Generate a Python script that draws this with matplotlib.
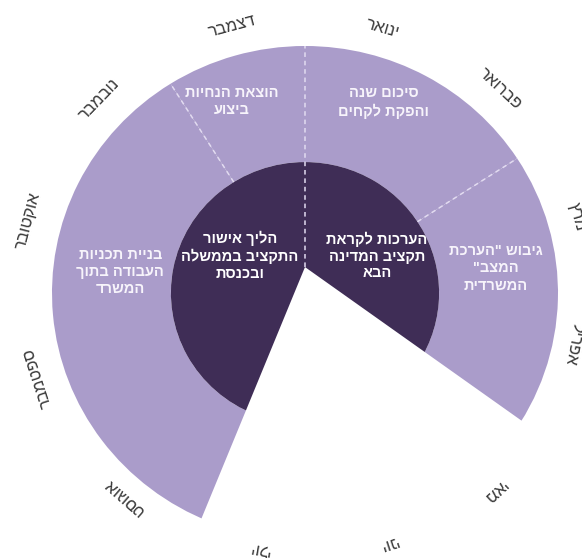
import numpy as np
import matplotlib
matplotlib.use('Agg')
import matplotlib.pyplot as plt
from matplotlib.patches import Wedge

plt.rcParams['font.family'] = ['Liberation Sans', 'DejaVu Sans']

# months, clockwise from the top
months = ['ינואר', 'פברואר', 'מרץ', 'אפריל', 'מאי', 'יוני',
          'יולי', 'אוגוסט', 'ספטמבר', 'אוקטובר', 'נובמבר', 'דצמבר']

# outer ring stages (start / end in months from 1 January)
outer_stages = ['סיכום שנה\nוהפקת לקחים',
                'גיבוש "הערכת\nהמצב"\nהמשרדית',
                'בניית תכניות\nהעבודה בתוך\nהמשרד',
                'הוצאת הנחיות\nביצוע']
outer_start = [0.0, 1.9, 6.73, 10.93]
outer_end = [1.9, 4.2, 10.93, 12.0]

# inner ring stages
inner_stages = ['הערכות לקראת\nתקציב המדינה\nהבא',
                'הליך אישור\nהתקציב בממשלה\nובכנסת']
inner_start = [0.0, 6.73]
inner_end = [4.2, 12.0]

# layout only: text anchors and month label placement
outer_text_pos = [(0.31, 0.77), (0.755, 0.10), (-0.73, 0.085), (-0.29, 0.775)]
inner_text_pos = [(0.285, 0.15), (-0.257, 0.15)]
label_theta = [16, 43, 74, 101, 137, 162, 190, 221, 252, 285, 314, 345]
label_r = [1.115, 1.13, 1.12, 1.08, 1.095, 1.065, 1.05, 1.093, 1.112, 1.135, 1.13, 1.117]

LIGHT = '#AA9CCA'
DARK = '#3F2D56'
SEP = '#E2DBF0'
R_OUT = 1.0
R_IN = 0.53
APEX_Y = 0.105


def rtl(s):
    # matplotlib has no bidi support, so lay Hebrew out visually
    return '\n'.join(line[::-1] for line in s.split('\n'))


def ang(m):
    # months -> matplotlib degrees (ccw from +x)
    return 90 - m * 30


fig = plt.figure(figsize=(5.82, 5.58), dpi=100)
ax = fig.add_axes([0, 0, 1, 1])
ax.set_xlim(-1.2055, 1.0949)
ax.set_ylim(-1.0729, 1.1862)
ax.axis('off')

for s, e in zip(outer_start, outer_end):
    ax.add_patch(Wedge((0, 0), R_OUT, ang(e), ang(s), width=R_OUT - R_IN,
                       fc=LIGHT, ec='none', zorder=1))
for s, e in zip(inner_start, inner_end):
    ax.add_patch(Wedge((0, 0), R_IN, ang(e), ang(s), fc=DARK, ec='none', zorder=1))

# the empty gap between the two inner stages
ax.add_patch(Wedge((0, APEX_Y), 2.5, ang(inner_start[1]), ang(inner_end[0]),
                   fc='white', ec='none', zorder=2))

# dashed separators
ax.plot([0, 0], [APEX_Y, R_OUT], color=SEP, lw=1.1, ls=(0, (3, 2.5)), zorder=3)
for m in [outer_start[1], outer_start[3]]:
    t = np.radians(m * 30)
    ax.plot([R_IN * np.sin(t), R_OUT * np.sin(t)], [R_IN * np.cos(t), R_OUT * np.cos(t)],
            color=SEP, lw=1.1, ls=(0, (3, 2.5)), zorder=3)

for txt, (x, y) in zip(outer_stages, outer_text_pos):
    ax.text(x, y, rtl(txt), color='#F7F4FB', fontsize=10.5, fontweight='bold',
            ha='center', va='center', linespacing=1.3, zorder=4)
for txt, (x, y) in zip(inner_stages, inner_text_pos):
    ax.text(x, y, rtl(txt), color='white', fontsize=10.5, fontweight='bold',
            ha='center', va='center', linespacing=1.25, zorder=4)

for m, th, r in zip(months, label_theta, label_r):
    t = np.radians(th)
    rot = -th if th <= 180 else 360 - th
    ax.text(r * np.sin(t), r * np.cos(t), rtl(m), rotation=rot,
            rotation_mode='anchor', ha='center', va='center', fontsize=12,
            color='#3A3A3A', zorder=4)

fig.savefig('out.png', dpi=100, facecolor='white')
